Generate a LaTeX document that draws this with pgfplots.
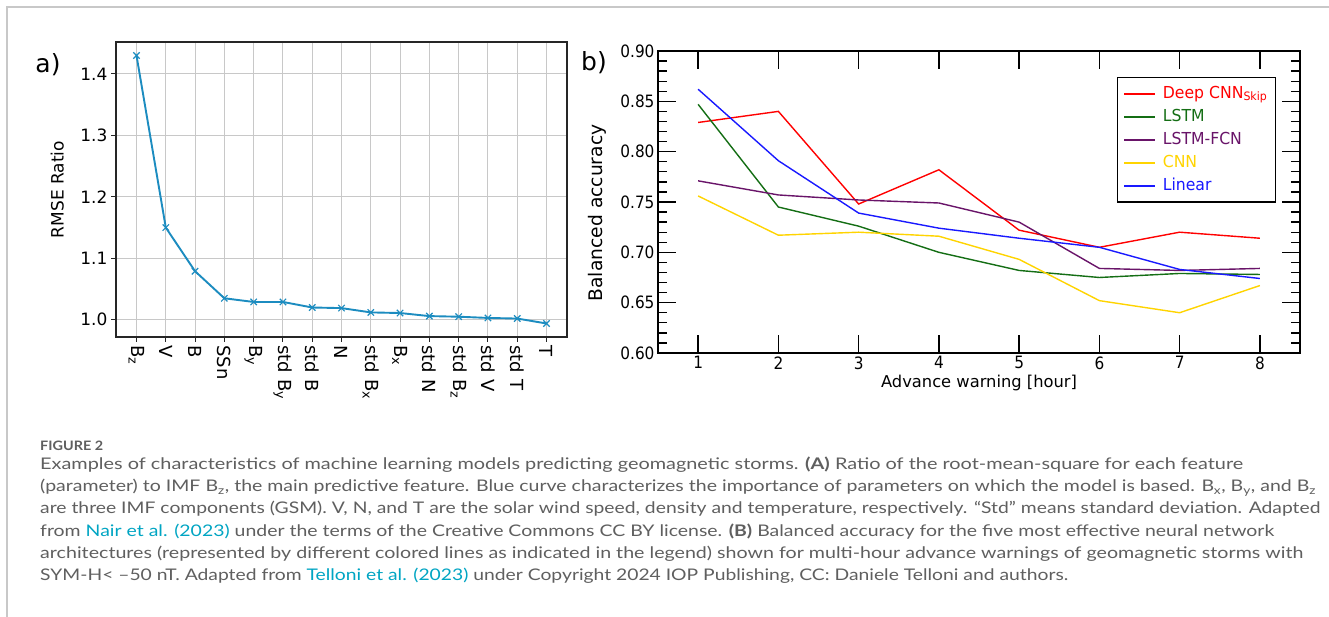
\documentclass[border=0pt]{standalone}
\usepackage{fontspec}
\usepackage{graphicx}
\usepackage{pgfplots}
\pgfplotsset{compat=1.18}
\setmainfont{DejaVu Sans}
\newfontfamily\condfont[FakeStretch=0.9]{DejaVu Sans}
\newfontfamily\legfont[FakeStretch=0.95]{DejaVu Sans}
\newfontfamily\capfont{Lato}
\definecolor{abl}{RGB}{28,140,192}
\definecolor{cred}{RGB}{255,0,0}
\definecolor{cgreen}{RGB}{20,110,20}
\definecolor{cpurple}{RGB}{105,20,105}
\definecolor{cyellow}{RGB}{255,212,0}
\definecolor{cblue}{RGB}{25,25,255}
\definecolor{capgray}{RGB}{95,95,95}
\definecolor{linkc}{RGB}{0,165,195}
\definecolor{framegray}{RGB}{200,200,200}
\definecolor{gridc}{RGB}{200,200,200}
\begin{document}
\begin{tikzpicture}[x=1pt,y=1pt]
\useasboundingbox (0,0) rectangle (1329,617);
\fill[white] (0,0) rectangle (1329,617);
\draw[framegray, line width=1.2pt] (7,0) -- (7,610) -- (1329,610);

% ---------------- Panel a ----------------
\begin{axis}[
  at={(116pt,280pt)}, anchor=south west,
  scale only axis, width=451pt, height=295pt,
  xmin=-0.7, xmax=14.7, ymin=0.972, ymax=1.452,
  xtick={0,...,14},
  xticklabels={B\textsubscript{z}, V, B, SSn, B\textsubscript{y}, std B\textsubscript{y}, std B, N, std B\textsubscript{x}, B\textsubscript{x}, std N, std B\textsubscript{z}, std V, std T, T},
  xticklabel style={rotate=-90, anchor=west, font=\fontsize{18}{18}\selectfont},
  ytick={1.0,1.1,1.2,1.3,1.4},
  /pgf/number format/fixed, /pgf/number format/fixed zerofill, /pgf/number format/precision=1,
  /pgf/number format/assume math mode=true,
  yticklabel style={font=\fontsize{17}{17}\selectfont},
  xmajorgrids=true, ymajorgrids=true,
  major grid style={draw=gridc, line width=1pt},
  tick align=outside, xtick pos=bottom, ytick pos=left,
  major tick length=5pt,
  major tick style={line width=0.9pt, draw=black!85},
  axis line style={line width=1.1pt, black!85},
  ylabel={RMSE Ratio},
  ylabel style={at={(axis description cs:-0.13,0.5)}, anchor=center, font=\fontsize{17}{17}\selectfont},
]
\addplot[draw=abl, line width=1.9pt, mark=x, mark size=4.5pt, mark options={draw=abl, line width=1.2pt}] coordinates {
(0,1.430) (1,1.150) (2,1.079) (3,1.035) (4,1.029) (5,1.029) (6,1.020) (7,1.019)
(8,1.012) (9,1.011) (10,1.006) (11,1.005) (12,1.003) (13,1.002) (14,0.994)};
\end{axis}
\node[font=\fontsize{25}{25}\selectfont] at (48,552) {a)};

% ---------------- Panel b ----------------
\begin{axis}[
  at={(658pt,264pt)}, anchor=south west,
  scale only axis, width=642pt, height=302pt,
  xmin=0.5, xmax=8.5, ymin=0.6, ymax=0.9,
  xtick={1,...,8},
  ytick={0.60,0.65,0.70,0.75,0.80,0.85,0.90},
  minor y tick num=4,
  /pgf/number format/fixed, /pgf/number format/fixed zerofill, /pgf/number format/precision=2,
  xticklabel={\pgfmathprintnumber[precision=0,fixed zerofill=false]{\tick}},
  /pgf/number format/assume math mode=true,
  tick label style={font=\condfont\fontsize{17}{17}\selectfont},
  tick align=inside,
  major tick length=18pt, minor tick length=9pt,
  every tick/.style={line width=1.3pt, black},
  axis line style={line width=1.5pt},
  xlabel={Advance warning [hour]},
  xlabel style={at={(axis description cs:0.5,-0.099)}, anchor=center, font=\fontsize{16.3}{16.3}\selectfont},
  ylabel={Balanced accuracy},
  ylabel style={at={(axis description cs:-0.095,0.4636)}, anchor=center, font=\fontsize{18.7}{18.7}\selectfont},
  legend style={at={(0.9626,0.9139)}, anchor=north east, draw=black, line width=1.3pt,
    font=\legfont\fontsize{16.5}{16.5}\selectfont, row sep=2.5pt, inner xsep=6pt, inner ysep=6pt,
    nodes={inner sep=2pt, text height=12.5pt, text depth=4pt}},
  legend cell align=left,
  legend image code/.code={\draw[#1] (0pt,0pt) -- (31pt,0pt); \path (36pt,0pt);},
]
\addplot[draw=cred, line width=1.4pt] coordinates {(1,0.829) (2,0.840) (3,0.748) (4,0.782) (5,0.722) (6,0.705) (7,0.720) (8,0.714)};
\addlegendentry{\textcolor{cred}{Deep CNN\textsubscript{Skip}}}
\addplot[draw=cgreen, line width=1.4pt] coordinates {(1,0.847) (2,0.745) (3,0.726) (4,0.700) (5,0.682) (6,0.675) (7,0.679) (8,0.678)};
\addlegendentry{\textcolor{cgreen}{LSTM}}
\addplot[draw=cpurple, line width=1.4pt] coordinates {(1,0.771) (2,0.757) (3,0.752) (4,0.749) (5,0.730) (6,0.684) (7,0.682) (8,0.684)};
\addlegendentry{\textcolor{cpurple}{LSTM-FCN}}
\addplot[draw=cyellow, line width=1.4pt] coordinates {(1,0.756) (2,0.717) (3,0.720) (4,0.716) (5,0.693) (6,0.652) (7,0.640) (8,0.667)};
\addlegendentry{\textcolor{cyellow}{CNN}}
\addplot[draw=cblue, line width=1.4pt] coordinates {(1,0.862) (2,0.791) (3,0.739) (4,0.724) (5,0.714) (6,0.705) (7,0.683) (8,0.674)};
\addlegendentry{\textcolor{cblue}{Linear}}
\end{axis}
\node[font=\fontsize{25}{25}\selectfont] at (594,554) {b)};

% ---------------- Caption ----------------
\begin{scope}[every node/.style={anchor=base west, inner sep=0pt, text=capgray}]
\node[font=\capfont\fontsize{13}{13}\selectfont\bfseries] at (40,166) {\resizebox{63pt}{\height}{FIGURE 2}};
\node[font=\capfont\fontsize{16}{16}\selectfont] at (40,147) {\resizebox{1203pt}{\height}{Examples of characteristics of machine learning models predicting geomagnetic storms. \textbf{(A)} Ratio of the root-mean-square for each feature}};
\node[font=\capfont\fontsize{16}{16}\selectfont] at (40,125) {\resizebox{1276pt}{\height}{(parameter) to IMF B\textsubscript{z}, the main predictive feature. Blue curve characterizes the importance of parameters on which the model is based. B\textsubscript{x}, B\textsubscript{y}, and B\textsubscript{z}}};
\node[font=\capfont\fontsize{16}{16}\selectfont] at (40,103) {\resizebox{1280pt}{\height}{are three IMF components (GSM). V, N, and T are the solar wind speed, density and temperature, respectively. “Std” means standard deviation. Adapted}};
\node[font=\capfont\fontsize{16}{16}\selectfont] at (40,80) {\resizebox{1234pt}{\height}{from \textcolor{linkc}{Nair et al. (2023)} under the terms of the Creative Commons CC BY license. \textbf{(B)} Balanced accuracy for the five most effective neural network}};
\node[font=\capfont\fontsize{16}{16}\selectfont] at (40,58) {\resizebox{1263pt}{\height}{architectures (represented by different colored lines as indicated in the legend) shown for multi-hour advance warnings of geomagnetic storms with}};
\node[font=\capfont\fontsize{16}{16}\selectfont] at (40,36) {\resizebox{1028pt}{\height}{SYM-H< –50 nT. Adapted from \textcolor{linkc}{Telloni et al. (2023)} under Copyright 2024 IOP Publishing, CC: Daniele Telloni and authors.}};
\end{scope}
\end{tikzpicture}
\end{document}
